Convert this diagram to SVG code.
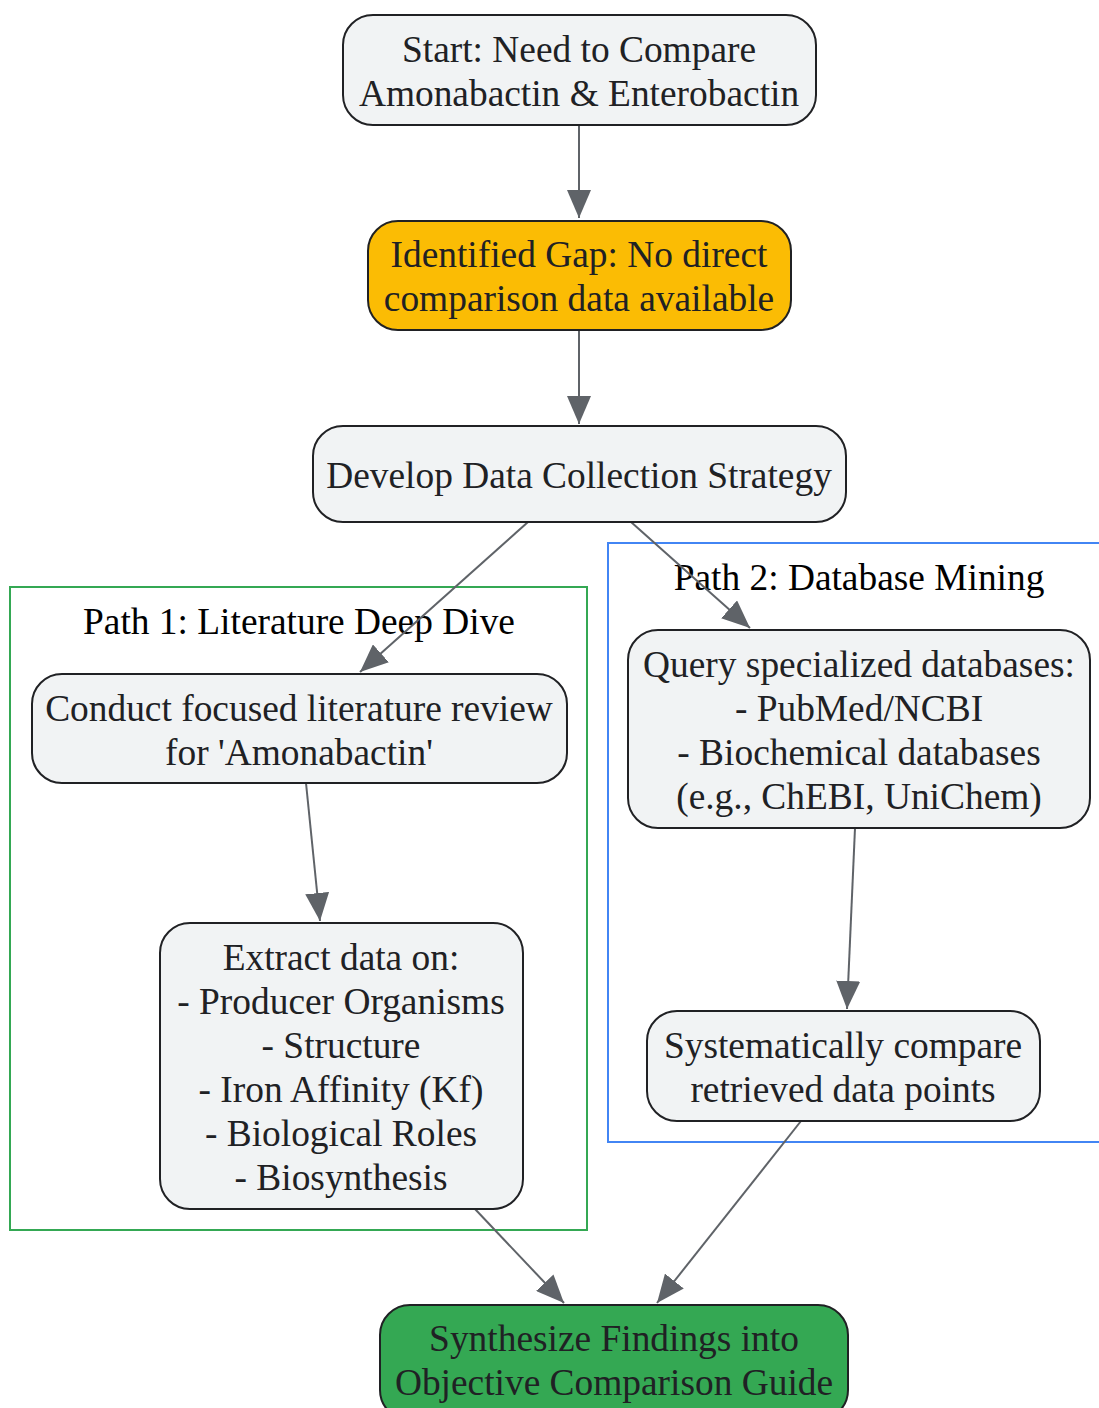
<svg xmlns="http://www.w3.org/2000/svg" width="1099" height="1408" viewBox="0 0 1099 1408">
<defs>
<marker id="arr" markerUnits="userSpaceOnUse" markerWidth="28" markerHeight="24" refX="28" refY="12" orient="auto">
<path d="M0,0 L28,12 L0,24 z" fill="#5f6368"/>
</marker>
<style>
.node rect{stroke:#202124;stroke-width:2}
.n{fill:#f1f3f4}
.t{font-family:"Liberation Serif",serif;font-size:37.4px;fill:#202124;text-anchor:middle}
.ct{font-family:"Liberation Serif",serif;font-size:37.4px;fill:#000;text-anchor:middle}
.edge{stroke:#5f6368;stroke-width:2;fill:none;marker-end:url(#arr)}
</style>
</defs>
<rect width="1099" height="1408" fill="#fff"/>
<g id="cluster1">
<rect x="10" y="587" width="577" height="643" fill="none" stroke="#34a853" stroke-width="2"/>
<text class="ct" x="299" y="634">Path 1: Literature Deep Dive</text>
</g>
<g id="cluster2">
<rect x="608" y="543" width="500" height="599" fill="none" stroke="#4285f4" stroke-width="2"/>
<text class="ct" x="859" y="590">Path 2: Database Mining</text>
</g>
<g id="edges">
<line class="edge" x1="579" y1="125" x2="579" y2="218"/>
<line class="edge" x1="579" y1="330" x2="579" y2="424"/>
<line class="edge" x1="528" y1="522" x2="360" y2="672"/>
<line class="edge" x1="631" y1="522" x2="750" y2="628"/>
<line class="edge" x1="306" y1="783" x2="320" y2="921"/>
<line class="edge" x1="855" y1="828" x2="847" y2="1009"/>
<line class="edge" x1="475" y1="1209" x2="564" y2="1303"/>
<line class="edge" x1="801" y1="1121" x2="657" y2="1303"/>
</g>
<g id="start" class="node">
<rect class="n" x="343" y="15" width="473" height="110" rx="30"/>
<text class="t" x="579" y="62">Start: Need to Compare</text>
<text class="t" x="579" y="106">Amonabactin &amp; Enterobactin</text>
</g>
<g id="gap" class="node">
<rect x="368" y="221" width="423" height="109" rx="30" fill="#fbbc04"/>
<text class="t" x="579" y="267">Identified Gap: No direct</text>
<text class="t" x="579" y="311">comparison data available</text>
</g>
<g id="develop" class="node">
<rect class="n" x="313" y="426" width="533" height="96" rx="30"/>
<text class="t" x="579" y="488">Develop Data Collection Strategy</text>
</g>
<g id="conduct" class="node">
<rect class="n" x="32" y="674" width="535" height="109" rx="30"/>
<text class="t" x="299" y="721">Conduct focused literature review</text>
<text class="t" x="299" y="765">for 'Amonabactin'</text>
</g>
<g id="extract" class="node">
<rect class="n" x="160" y="923" width="363" height="286" rx="30"/>
<text class="t" x="341" y="970">Extract data on:</text>
<text class="t" x="341" y="1014">- Producer Organisms</text>
<text class="t" x="341" y="1058">- Structure</text>
<text class="t" x="341" y="1102">- Iron Affinity (Kf)</text>
<text class="t" x="341" y="1146">- Biological Roles</text>
<text class="t" x="341" y="1190">- Biosynthesis</text>
</g>
<g id="query" class="node">
<rect class="n" x="628" y="630" width="462" height="198" rx="30"/>
<text class="t" x="859" y="677">Query specialized databases:</text>
<text class="t" x="859" y="721">- PubMed/NCBI</text>
<text class="t" x="859" y="765">- Biochemical databases</text>
<text class="t" x="859" y="809">(e.g., ChEBI, UniChem)</text>
</g>
<g id="compare" class="node">
<rect class="n" x="647" y="1011" width="393" height="110" rx="30"/>
<text class="t" x="843" y="1058">Systematically compare</text>
<text class="t" x="843" y="1102">retrieved data points</text>
</g>
<g id="synth" class="node">
<rect x="380" y="1305" width="468" height="115" rx="30" fill="#34a853"/>
<text class="t" x="614" y="1351">Synthesize Findings into</text>
<text class="t" x="614" y="1395">Objective Comparison Guide</text>
</g>
</svg>
